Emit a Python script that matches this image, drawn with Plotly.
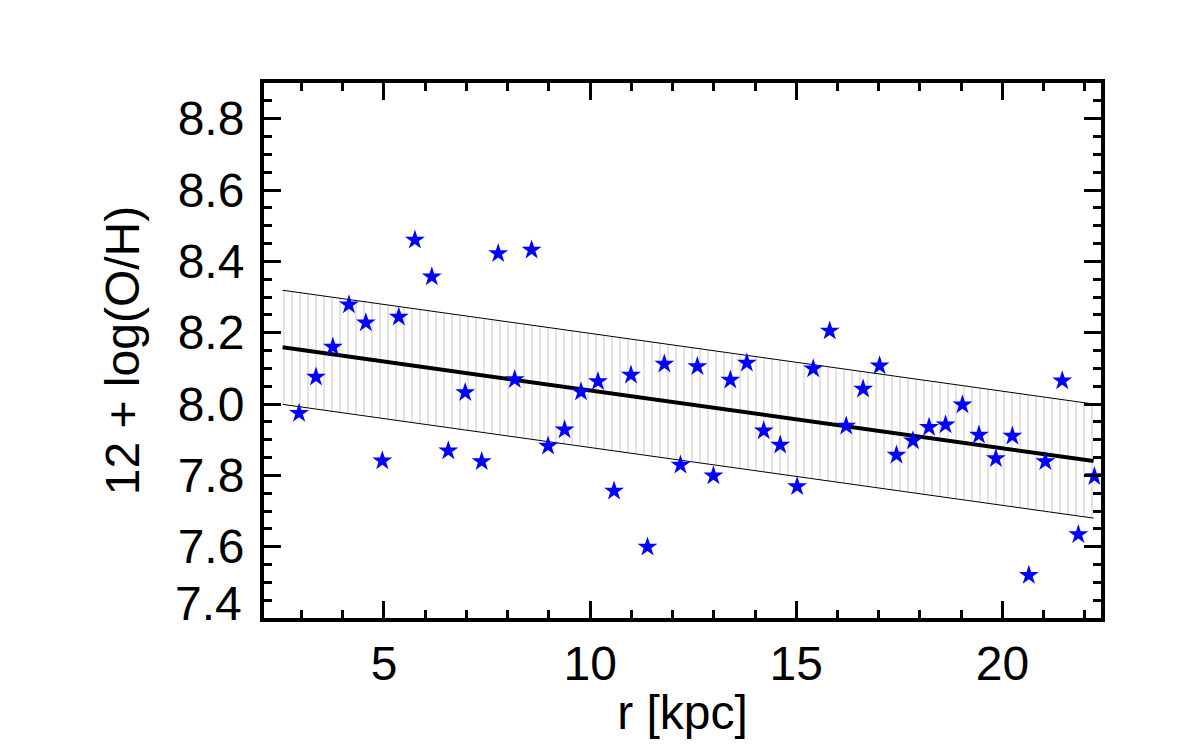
import plotly.graph_objects as go

# Data
r_kpc = [2.94, 3.35, 3.76, 4.15, 4.56, 4.96, 5.36, 5.75, 6.16, 6.56,
         6.97, 7.37, 7.77, 8.17, 8.58, 8.98, 9.38, 9.78, 10.19, 10.58,
         10.99, 11.39, 11.80, 12.19, 12.60, 12.99, 13.40, 13.80, 14.21, 14.61,
         15.02, 15.41, 15.81, 16.21, 16.62, 17.02, 17.43, 17.83, 18.22, 18.62,
         19.03, 19.43, 19.84, 20.24, 20.64, 21.04, 21.45, 21.84, 22.23]
oh = [7.974, 8.076, 8.160, 8.278, 8.228, 7.841, 8.244, 8.460, 8.357, 7.869,
      8.032, 7.839, 8.422, 8.069, 8.432, 7.882, 7.928, 8.034, 8.063, 7.756,
      8.081, 7.599, 8.112, 7.829, 8.105, 7.799, 8.067, 8.115, 7.925, 7.885,
      7.769, 8.099, 8.205, 7.938, 8.042, 8.107, 7.857, 7.897, 7.935, 7.942,
      7.998, 7.913, 7.847, 7.910, 7.520, 7.839, 8.065, 7.634, 7.797]

fit_r = [2.54, 22.21]
fit_oh = [8.159, 7.840]
fit_scatter = 0.16

x_ticks = [5, 10, 15, 20]
y_ticks = [7.6, 7.8, 8.0, 8.2, 8.4, 8.6, 8.8]
y_ticktext = ["7.6", "7.8", "8.0", "8.2", "8.4", "8.6", "8.8"]
y_bottom_label = "7.4"

FONT = "Liberation Sans, Arial, Helvetica, sans-serif"
FS = 48

fit_low = [v - fit_scatter for v in fit_oh]
fit_high = [v + fit_scatter for v in fit_oh]

fig = go.Figure()
fig.add_trace(go.Scatter(x=fit_r, y=fit_low, mode="lines",
                         line=dict(color="black", width=1), showlegend=False,
                         hoverinfo="skip"))
fig.add_trace(go.Scatter(x=fit_r, y=fit_high, mode="lines",
                         line=dict(color="black", width=1), showlegend=False,
                         fill="tonexty", fillcolor="rgba(0,0,0,0)",
                         fillpattern=dict(shape="|", size=8, solidity=0.12,
                                          fgcolor="#c4c4c4", bgcolor="white",
                                          fillmode="replace"),
                         hoverinfo="skip"))
fig.add_trace(go.Scatter(x=fit_r, y=fit_oh, mode="lines",
                         line=dict(color="black", width=4), showlegend=False))
fig.add_trace(go.Scatter(x=r_kpc, y=oh, mode="markers",
                         marker=dict(symbol="star", size=15, color="#0000ff",
                                     line=dict(width=0)),
                         showlegend=False))

axis_common = dict(
    showgrid=False, zeroline=False, showline=True, linecolor="black",
    linewidth=4, mirror="allticks", ticks="inside", tickcolor="black",
    tickwidth=3, ticklen=17,
    tickfont=dict(family=FONT, size=FS, color="black"),
)

fig.update_xaxes(
    range=[2.09, 22.39], tickvals=x_ticks,
    minor=dict(dtick=1, tick0=0, ticks="inside", ticklen=8, tickwidth=3,
               tickcolor="black", showgrid=False),
    title=dict(text="r [kpc]", font=dict(family=FONT, size=FS, color="black"),
               standoff=8),
    **axis_common,
)
fig.update_yaxes(
    range=[7.4, 8.9], tickvals=y_ticks, ticktext=y_ticktext,
    minor=dict(dtick=0.05, tick0=7.4, ticks="inside", ticklen=8, tickwidth=3,
               tickcolor="black", showgrid=False),
    title=dict(text="12 + log(O/H)", font=dict(family=FONT, size=FS, color="black"),
               standoff=24),
    ticklabelstandoff=6,
    **axis_common,
)

fig.add_annotation(text=y_bottom_label, xref="paper", yref="y", x=0, y=7.4,
                   xanchor="right", yanchor="middle", xshift=-20, yshift=15,
                   showarrow=False,
                   font=dict(family=FONT, size=FS, color="black"))

fig.update_layout(
    width=1181, height=745,
    margin=dict(l=256, r=88, t=75, b=135, autoexpand=False),
    paper_bgcolor="white", plot_bgcolor="white",
    showlegend=False,
)

fig.write_html("out.html")
